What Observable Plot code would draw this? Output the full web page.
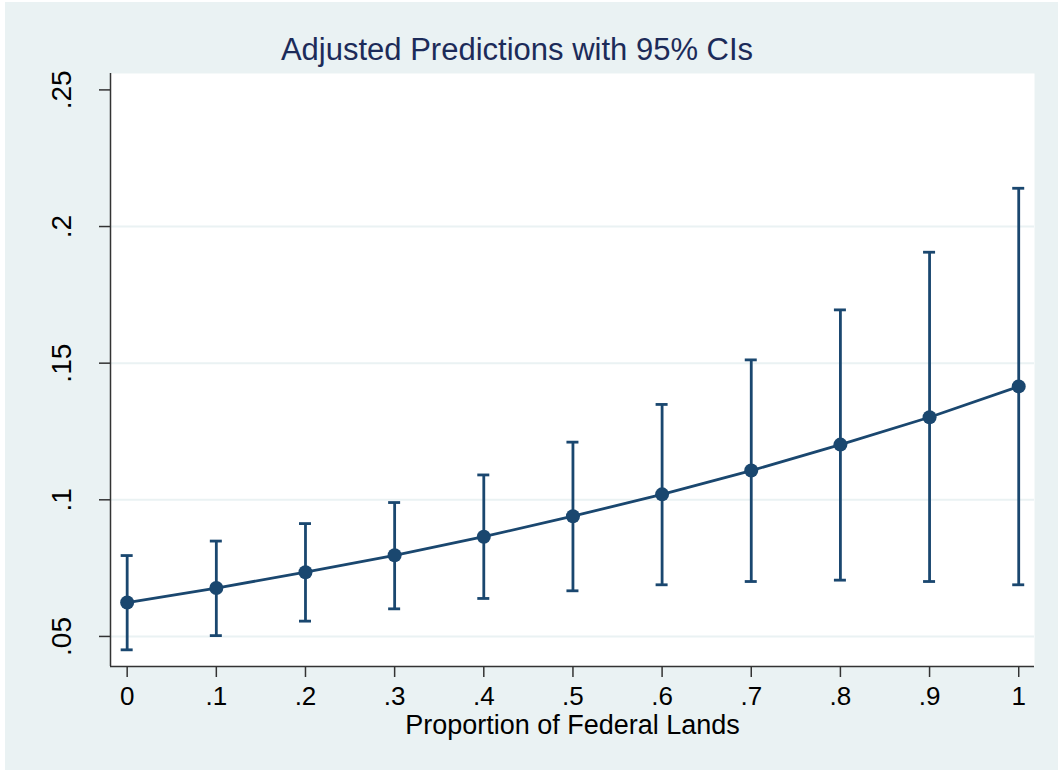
<!DOCTYPE html>
<html>
<head>
<meta charset="utf-8">
<script src="https://cdn.jsdelivr.net/npm/d3@7"></script>
<script src="https://cdn.jsdelivr.net/npm/@observablehq/plot@0.6"></script>
<style>
  html, body { margin: 0; padding: 0; background: #ffffff; }
  #wrap { position: absolute; left: 5px; top: 2px; width: 1053px; height: 768px; background: #eaf2f3; }
  #title { position: absolute; left: 0; top: 32px; width: 1024px; text-align: center; z-index: 2;
           font-family: "Liberation Sans", Arial, sans-serif; font-size: 31px; line-height: 31px; color: #1c2b59; }
  #chart { position: absolute; left: 0; top: 55px; z-index: 1; }
</style>
</head>
<body>
<div id="wrap">
  <div id="chart"></div>
  <div id="title">Adjusted Predictions with 95% CIs</div>
</div>
<script>
const proportion = [0, 0.1, 0.2, 0.3, 0.4, 0.5, 0.6, 0.7, 0.8, 0.9, 1];
const margin = [0.0624, 0.0677, 0.0735, 0.0797, 0.0865, 0.0940, 0.1020, 0.1107, 0.1202, 0.1302, 0.1415];
const ciLower = [0.0451, 0.0503, 0.0556, 0.0601, 0.0639, 0.0667, 0.0689, 0.0701, 0.0706, 0.0701, 0.0689];
const ciUpper = [0.0796, 0.0849, 0.0913, 0.0990, 0.1091, 0.1211, 0.1349, 0.1512, 0.1695, 0.1906, 0.2140];
const xTicks = [0, 0.1, 0.2, 0.3, 0.4, 0.5, 0.6, 0.7, 0.8, 0.9, 1];
const yTicks = [0.05, 0.1, 0.15, 0.2, 0.25];
const yGrid = [0.05, 0.1, 0.15, 0.2];
const xLabel = "Proportion of Federal Lands";

const data = proportion.map((x, i) => ({x, y: margin[i], lo: ciLower[i], hi: ciUpper[i]}));
const fmt = d => d === 0 ? "0" : d === 1 ? "1" : String(+d.toFixed(2)).replace(/^0/, "");
const xDomain = [-0.0187, 1.0177];
const yDomain = [0.039, 0.256];
const navy = "#1a476f";
const font = "Liberation Sans, Arial, sans-serif";

const chart = Plot.plot({
  width: 1053,
  height: 713,
  marginLeft: 105,
  marginRight: 24,
  marginTop: 16,
  marginBottom: 104,
  style: {background: "#eaf2f3", fontFamily: font, color: "#000"},
  x: {domain: xDomain, axis: null},
  y: {domain: yDomain, axis: null},
  marks: [
    Plot.frame({fill: "white", stroke: null}),
    Plot.ruleY(yGrid, {stroke: "#eaf2f3", strokeWidth: 2}),
    Plot.ruleX([xDomain[0]], {stroke: "#333", strokeWidth: 1.5}),
    Plot.ruleY([yDomain[0]], {stroke: "#333", strokeWidth: 1.5}),
    // y axis ticks and rotated labels
    Plot.axisY({ticks: yTicks, tickSize: 11, tickFormat: () => "", stroke: "#333", strokeWidth: 1.5, label: null}),
    Plot.text(yTicks, {y: d => d, frameAnchor: "left", dx: -40, rotate: -90, text: fmt,
      textAnchor: "middle", lineAnchor: "bottom", fontSize: 28, fill: "#000"}),
    // x axis
    Plot.axisX({ticks: xTicks, tickSize: 11, tickPadding: 9, tickFormat: fmt, fontSize: 26,
      stroke: "#333", strokeWidth: 1.5, label: null, color: "#000"}),
    Plot.text([xLabel], {frameAnchor: "bottom", dy: 67, lineAnchor: "bottom", fontSize: 27, fill: "#000"}),
    // CIs
    Plot.ruleX(data, {x: "x", y1: "lo", y2: "hi", stroke: navy, strokeWidth: 2.8}),
    Plot.ruleY(data, {y: "hi", x1: "x", x2: "x", insetLeft: -6, insetRight: -6, stroke: navy, strokeWidth: 2.8}),
    Plot.ruleY(data, {y: "lo", x1: "x", x2: "x", insetLeft: -6, insetRight: -6, stroke: navy, strokeWidth: 2.8}),
    Plot.line(data, {x: "x", y: "y", stroke: navy, strokeWidth: 2.8}),
    Plot.dot(data, {x: "x", y: "y", r: 7, fill: navy, stroke: null})
  ]
});
document.getElementById("chart").appendChild(chart);
</script>
</body>
</html>
